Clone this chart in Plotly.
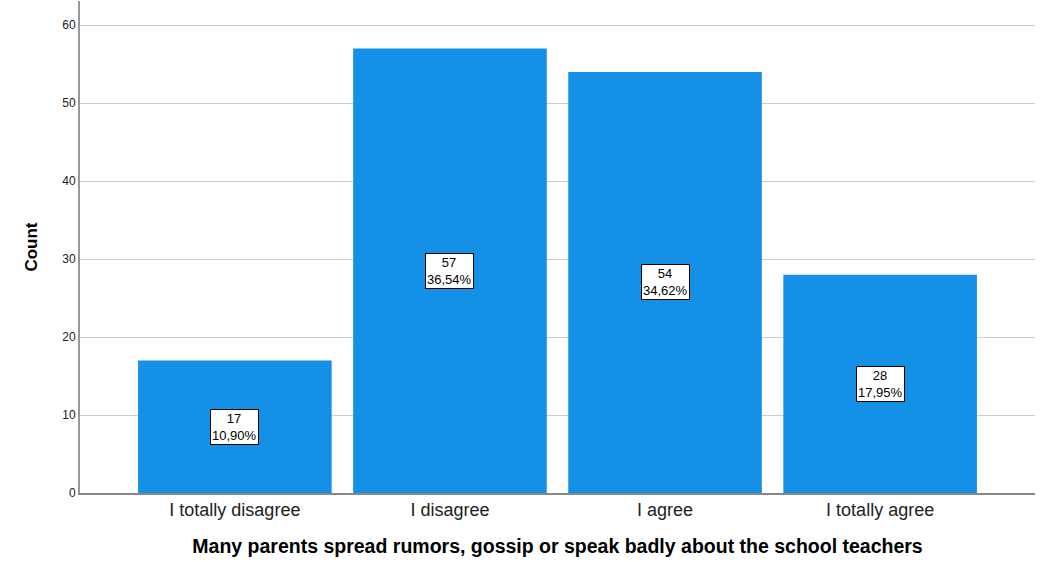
import plotly.graph_objects as go

categories = ["I totally disagree", "I disagree", "I agree", "I totally agree"]
counts = [17, 57, 54, 28]
percents = ["10,90%", "36,54%", "34,62%", "17,95%"]

fig = go.Figure()
fig.add_trace(go.Bar(
    x=list(range(len(categories))), y=counts,
    width=0.9, marker=dict(color="#1490E6", line=dict(width=0)),
    hoverinfo="skip",
))

for i, (c, p) in enumerate(zip(counts, percents)):
    fig.add_annotation(
        x=i, y=c / 2, xref="x", yref="y",
        text=f"{c}<br>{p}", showarrow=False,
        font=dict(family="Liberation Sans, Arial", size=13, color="black"),
        bgcolor="white", bordercolor="black", borderwidth=1, borderpad=1,
        align="center",
    )

fig.update_layout(
    width=1045, height=562,
    margin=dict(l=80, r=10, t=1, b=69),
    plot_bgcolor="white", paper_bgcolor="white",
    showlegend=False,
    font=dict(family="Liberation Sans, Arial", color="black"),
    bargap=0.1,
)
fig.update_xaxes(
    range=[-0.72, 3.72],
    tickmode="array", tickvals=list(range(len(categories))), ticktext=categories,
    tickfont=dict(size=18, color="#222"),
    showline=True, linecolor="#888", linewidth=1.5,
    showgrid=False, ticks="",
    title=dict(text="<b>Many parents spread rumors, gossip or speak badly about the school teachers</b>",
               font=dict(size=19.5, color="black"), standoff=20),
)
fig.update_yaxes(
    range=[0, 63.1],
    tickmode="array", tickvals=[0, 10, 20, 30, 40, 50, 60],
    tickfont=dict(size=12, color="#222"),
    showline=True, linecolor="#999", linewidth=2,
    showgrid=True, gridcolor="#cccccc", gridwidth=1,
    zeroline=False, ticks="", ticklen=0,
    title=dict(text="<b>Count</b>", font=dict(size=17, color="black"), standoff=20),
)

fig.write_html("out.html", config={"displayModeBar": False},
               post_script="document.body.style.margin='0';")
